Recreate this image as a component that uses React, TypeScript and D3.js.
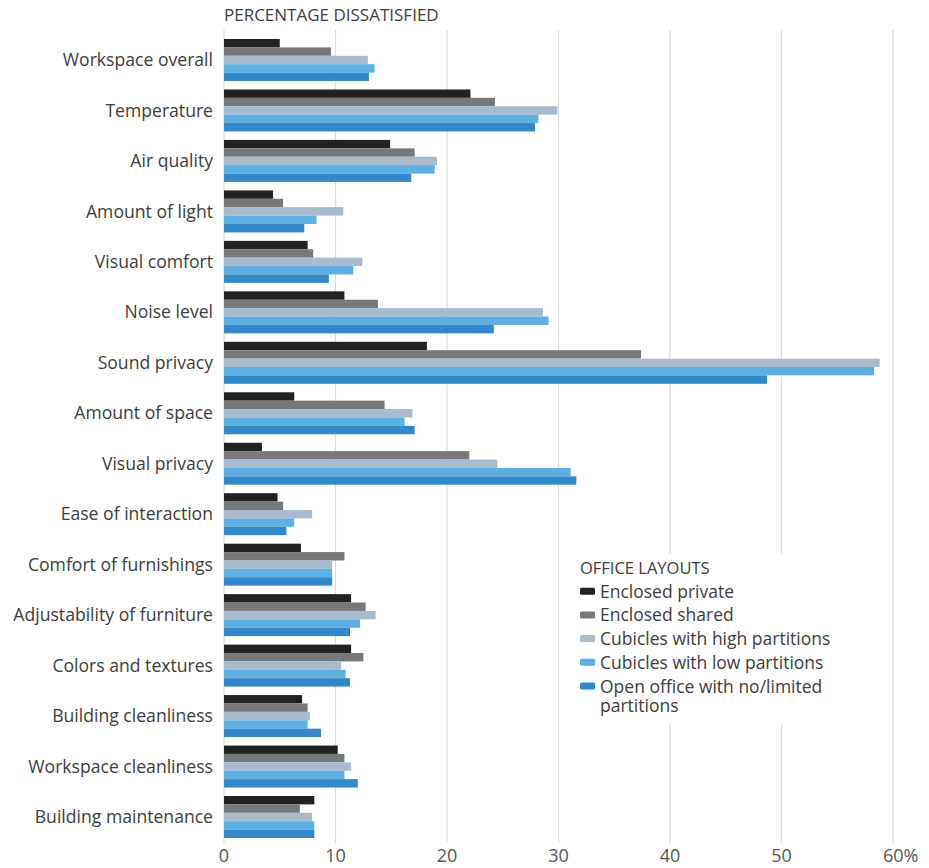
import React from "react";
import * as d3 from "d3";

const categories = [
  "Workspace overall",
  "Temperature",
  "Air quality",
  "Amount of light",
  "Visual comfort",
  "Noise level",
  "Sound privacy",
  "Amount of space",
  "Visual privacy",
  "Ease of interaction",
  "Comfort of furnishings",
  "Adjustability of furniture",
  "Colors and textures",
  "Building cleanliness",
  "Workspace cleanliness",
  "Building maintenance",
];

const seriesNames = [
  "Enclosed private",
  "Enclosed shared",
  "Cubicles with high partitions",
  "Cubicles with low partitions",
  "Open office with no/limited partitions",
];

const enclosedPrivate = [5.0, 22.1, 14.9, 4.4, 7.5, 10.8, 18.2, 6.3, 3.4, 4.8, 6.9, 11.4, 11.4, 7.0, 10.2, 8.1];
const enclosedShared = [9.6, 24.3, 17.1, 5.3, 8.0, 13.8, 37.4, 14.4, 22.0, 5.3, 10.8, 12.7, 12.5, 7.5, 10.8, 6.8];
const cubiclesHigh = [12.9, 29.9, 19.1, 10.7, 12.4, 28.6, 58.8, 16.9, 24.5, 7.9, 9.7, 13.6, 10.5, 7.7, 11.4, 7.9];
const cubiclesLow = [13.5, 28.2, 18.9, 8.3, 11.6, 29.1, 58.3, 16.2, 31.1, 6.3, 9.7, 12.2, 10.9, 7.5, 10.8, 8.1];
const openOffice = [13.0, 27.9, 16.8, 7.2, 9.4, 24.2, 48.7, 17.1, 31.6, 5.6, 9.7, 11.3, 11.3, 8.7, 12.0, 8.1];

const seriesValues = [enclosedPrivate, enclosedShared, cubiclesHigh, cubiclesLow, openOffice];
const colors = ["#222222", "#77787b", "#a8bacb", "#5eb0e2", "#3388c9"];
const xTicks = [0, 10, 20, 30, 40, 50, 60];

const FONT = "'Open Sans', 'Noto Sans', sans-serif";

export default function App() {
  const width = 929;
  const height = 868;
  const x = d3.scaleLinear().domain([0, 60]).range([224, 893]);
  const y = d3.scaleBand<string>().domain(categories).range([39, 838]).paddingInner(0.168).paddingOuter(0);
  const inner = d3.scaleBand<number>().domain(d3.range(seriesNames.length)).range([0, y.bandwidth()]).padding(0);

  const legendX = 580;
  const legendY = 574;

  return (
    <svg width={width} height={height} style={{ position: "absolute", left: 0, top: 0 }}>
      <rect width={width} height={height} fill="#fff" />
      <text x={224} y={21} fontFamily={FONT} fontSize={17} fill="#3d3d3d" fontWeight={500}>
        PERCENTAGE DISSATISFIED
      </text>
      {xTicks.map((t) => (
        <line key={"g" + t} x1={x(t)} x2={x(t)} y1={30} y2={843} stroke="#dcdcdc" strokeWidth={1.2} />
      ))}
      {categories.map((c, ci) => (
        <g key={c}>
          <text
            x={213}
            y={(y(c) as number) + y.bandwidth() / 2}
            dy="0.35em"
            textAnchor="end"
            fontFamily={FONT}
            fontSize={17.6}
            fontWeight={500}
            fill="#3d3d3d"
          >
            {c}
          </text>
          {seriesValues.map((vals, si) => (
            <rect
              key={si}
              x={x(0)}
              y={(y(c) as number) + (inner(si) as number)}
              width={x(vals[ci]) - x(0)}
              height={inner.bandwidth()}
              fill={colors[si]}
            />
          ))}
        </g>
      ))}
      {xTicks.map((t) => (
        <text
          key={"t" + t}
          x={t === 60 ? x(t) - 10 : x(t)}
          y={862}
          textAnchor={t === 60 ? "start" : "middle"}
          fontFamily={FONT}
          fontSize={18}
          fill="#555"
        >
          {t === 60 ? "60%" : String(t)}
        </text>
      ))}
      <rect x={legendX - 6} y={legendY - 20} width={300} height={170} fill="#fff" />
      <text x={legendX} y={legendY} fontFamily={FONT} fontSize={16.5} fill="#3d3d3d" fontWeight={500}>
        OFFICE LAYOUTS
      </text>
      {seriesNames.map((s, i) => {
        const ly = legendY + 23.7 + i * 23.7;
        const lines = i === 4 ? ["Open office with no/limited", "partitions"] : [s];
        return (
          <g key={s}>
            <rect x={legendX} y={ly - 10} width={15} height={7} rx={1.5} fill={colors[i]} />
            {lines.map((l, li) => (
              <text key={li} x={legendX + 20} y={ly + li * 19} fontFamily={FONT} fontSize={17.5} fontWeight={500} fill="#3d3d3d">
                {l}
              </text>
            ))}
          </g>
        );
      })}
    </svg>
  );
}
